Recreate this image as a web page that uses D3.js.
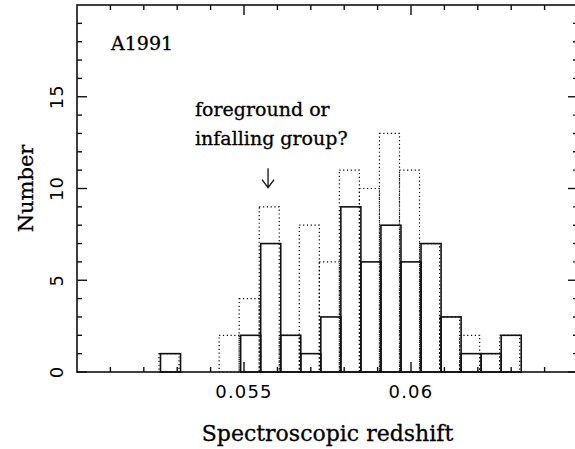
<!DOCTYPE html>
<html>
<head>
<meta charset="utf-8">
<script src="https://cdn.jsdelivr.net/npm/d3@7"></script>
<style>
  body { margin: 0; background: #fff; }
  svg { display: block; }
</style>
</head>
<body>
<div id="chart"></div>
<script>
// bin left edges (redshift) and the common bin width
const binLefts = [0.0525, 0.0531, 0.0537, 0.0543, 0.0549, 0.0555, 0.0561, 0.0567, 0.0573,
                  0.0579, 0.0585, 0.0591, 0.0597, 0.0603, 0.0609, 0.0615, 0.0621, 0.0627];
const binWidth = 0.0006;
// solid histogram (members) and dotted histogram (all galaxies)
const solidCounts  = [1, 0, 0, 0, 2, 7, 2, 1, 3, 9, 6, 8, 6, 7, 3, 1, 1, 2];
const dottedCounts = [1, 0, 0, 2, 4, 9, 2, 8, 6, 11, 10, 13, 11, 7, 3, 2, 1, 2];
const xMajorTicks = [0.055, 0.06];
const xMinorTicks = [0.051, 0.052, 0.053, 0.054, 0.056, 0.057, 0.058, 0.059, 0.061, 0.062, 0.063, 0.064];
const yMajorTicks = [0, 5, 10, 15];
const yMinorTicks = [1, 2, 3, 4, 6, 7, 8, 9, 11, 12, 13, 14, 16, 17, 18, 19];

const W = 575, H = 449;
const margin = {top: 5, right: -3, bottom: 77, left: 77};
const width = W - margin.left - margin.right,
      height = H - margin.top - margin.bottom;

const svg = d3.select("#chart").append("svg")
    .attr("width", W).attr("height", H);
const g = svg.append("g")
    .attr("transform", `translate(${margin.left}, ${margin.top})`);

const x = d3.scaleLinear().domain([0.05, 0.065]).range([0, width]);
const y = d3.scaleLinear().domain([0, 20]).range([height, 0]);

const serif = "DejaVu Serif";
const sans = "DejaVu Sans";

// dotted histogram
const dotted = dottedCounts.map((c, i) => ({x0: binLefts[i], c}));
g.selectAll(".dot-bar")
  .data(dotted.filter(d => d.c > 0))
  .join("rect")
    .attr("x", d => x(d.x0) - 1.5)
    .attr("y", d => y(d.c))
    .attr("width", d => x(d.x0 + binWidth) - x(d.x0))
    .attr("height", d => y(0) - y(d.c))
    .attr("fill", "none")
    .attr("stroke", "#000")
    .attr("stroke-width", 1.2)
    .attr("stroke-dasharray", "1.2,2.6");

// solid histogram
const solid = solidCounts.map((c, i) => ({x0: binLefts[i], c}));
g.selectAll(".solid-bar")
  .data(solid.filter(d => d.c > 0))
  .join("rect")
    .attr("x", d => x(d.x0))
    .attr("y", d => y(d.c))
    .attr("width", d => x(d.x0 + binWidth) - x(d.x0))
    .attr("height", d => y(0) - y(d.c))
    .attr("fill", "none")
    .attr("stroke", "#111")
    .attr("stroke-width", 1.6);

// frame ticks on all four sides, pointing inwards
const tickLine = (x1, y1, x2, y2) => g.append("line")
    .attr("x1", x1).attr("y1", y1).attr("x2", x2).attr("y2", y2)
    .attr("stroke", "#111").attr("stroke-width", 1.4);
const majorLen = 10, minorLen = 5;
xMajorTicks.forEach(v => { tickLine(x(v), height, x(v), height - majorLen); tickLine(x(v), 0, x(v), majorLen); });
xMinorTicks.forEach(v => { tickLine(x(v), height, x(v), height - minorLen); tickLine(x(v), 0, x(v), minorLen); });
yMajorTicks.forEach(v => { tickLine(0, y(v), majorLen, y(v)); tickLine(width, y(v), width - majorLen, y(v)); });
yMinorTicks.forEach(v => { tickLine(0, y(v), minorLen, y(v)); tickLine(width, y(v), width - minorLen, y(v)); });

g.append("rect")
    .attr("width", width).attr("height", height)
    .attr("fill", "none").attr("stroke", "#111").attr("stroke-width", 1.6);

// tick labels
g.selectAll(".xlab").data(xMajorTicks).join("text")
    .attr("x", d => x(d)).attr("y", height + 26)
    .attr("text-anchor", "middle")
    .attr("font-family", sans).attr("font-size", 18)
    .attr("letter-spacing", 1.2)
    .text(d => d3.format("")(d));

g.selectAll(".ylab").data(yMajorTicks).join("text")
    .attr("transform", d => `translate(-14, ${y(d)}) rotate(-90)`)
    .attr("text-anchor", "middle")
    .attr("font-family", sans).attr("font-size", 18)
    .attr("letter-spacing", 1)
    .text(d => d);

// axis titles
const serifText = sel => sel
    .attr("font-family", serif)
    .attr("stroke", "#000").attr("stroke-width", 0.3);

g.append("text")
    .attr("x", width / 2).attr("y", height + 69)
    .attr("text-anchor", "middle")
    .attr("font-size", 22)
    .call(serifText)
    .text("Spectroscopic redshift");

g.append("text")
    .attr("transform", `translate(-44, ${height / 2}) rotate(-90)`)
    .attr("text-anchor", "middle")
    .attr("font-size", 21)
    .call(serifText)
    .text("Number");

// annotations
g.append("text")
    .attr("x", 34).attr("y", 45)
    .attr("font-size", 19)
    .call(serifText)
    .text("A1991");

g.append("text")
    .attr("x", 118).attr("y", 111)
    .attr("font-size", 19)
    .call(serifText)
    .text("foreground or");
g.append("text")
    .attr("x", 118).attr("y", 140)
    .attr("font-size", 19)
    .call(serifText)
    .text("infalling group?");

// the arrow under the note, pointing at the 0.0555 bin
const arrowX = x(0.05572), arrowTop = y(11.1), arrowTip = y(10.05);
g.append("path")
    .attr("d", `M${arrowX},${arrowTop}V${arrowTip}M${arrowX - 6},${arrowTip - 8}L${arrowX},${arrowTip}L${arrowX + 6},${arrowTip - 8}`)
    .attr("fill", "none")
    .attr("stroke", "#111")
    .attr("stroke-width", 1.3);
</script>
</body>
</html>
